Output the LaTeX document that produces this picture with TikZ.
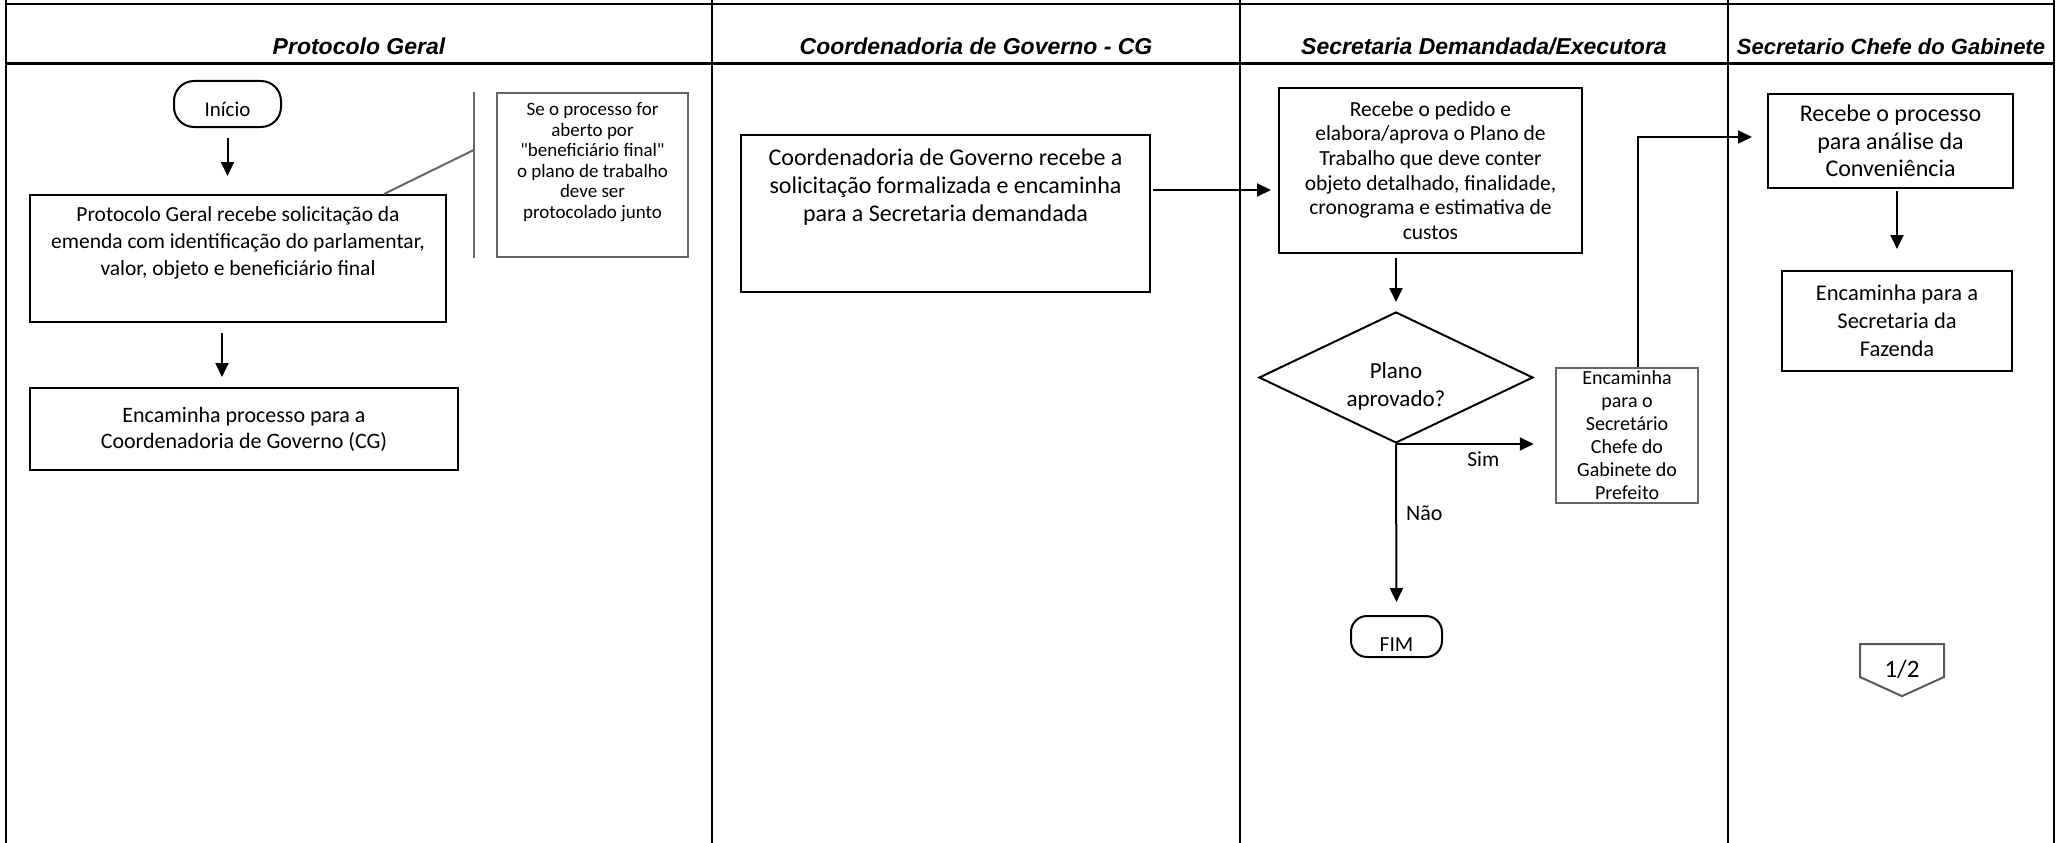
\documentclass[tikz,border=0pt]{standalone}
\usepackage{fontspec}
\setmainfont{Carlito}[Ligatures=TeXOff]
\newfontfamily\headfont{Liberation Sans}
\usetikzlibrary{arrows.meta,shapes.geometric,shapes.symbols}

\begin{document}
\begin{tikzpicture}[x=1pt, y=-1pt,
  caixa/.style={draw, line width=2pt, inner sep=0pt},
  nota/.style={draw=black!60, line width=2.5pt, inner sep=0pt},
  seta/.style={line width=2pt, -{Triangle[width=13pt,length=14pt]}},
  titulo/.style={font=\headfont\bfseries\itshape\fontsize{23}{28}\selectfont, anchor=base},
  texto/.style={align=center, inner sep=0pt}]

  \useasboundingbox (0,0) rectangle (2062,843);

  \draw[line width=2pt] (6,4) -- (2054,4);
  \draw[line width=3pt] (6,64) -- (2054,64);
  \foreach \x in {6,712,1240,1728,2054}
    \draw[line width=2pt] (\x,0) -- (\x,843);

  \node[titulo] (tProtocolo) at (359,55) {Protocolo Geral};
  \node[titulo] (tGoverno) at (976,55) {Coordenadoria de Governo - CG};
  \node[titulo] (tSecretaria) at (1484,55) {Secretaria Demandada/Executora};
  \node[titulo, font=\headfont\bfseries\itshape\fontsize{22}{28}\selectfont] (tGabinete) at (1891,55) {Secretario Chefe do Gabinete};

  \node[caixa, rounded corners=20pt, minimum width=107pt, minimum height=46pt, text height=26pt, text depth=0pt, font=\fontsize{21}{24}\selectfont] (inicio) at (227.5,104) {Início};

  \node[caixa, minimum width=416pt, minimum height=127pt] (protocolo) at (238,258.5) {};
  \node[texto, anchor=north, font=\fontsize{21.5}{27}\selectfont] (protocoloTxt) at ([yshift=-12pt]protocolo.north) {Protocolo Geral recebe solicitação da\\emenda com identificação do parlamentar,\\valor, objeto e beneficiário final};

  \node[caixa, texto, minimum width=428pt, minimum height=82pt, font=\fontsize{22}{26}\selectfont] (encaminhaPG) at (244,429) {Encaminha processo para a\\Coordenadoria de Governo (CG)};

  \node[nota, minimum width=191pt, minimum height=164pt] (obs) at (592.5,175) {};
  \node[texto, anchor=north, font=\fontsize{19}{20.5}\selectfont] (obsTxt) at ([yshift=-11pt]obs.north) {Se o processo for\\aberto por\\"beneficiário final"\\o plano de trabalho\\deve ser\\protocolado junto};
  \draw[line width=2.5pt, black!60] ([xshift=-22pt]obs.north west) -- ([xshift=-22pt]obs.south west);
  \draw[line width=2pt, black!60] ([xshift=-63pt]protocolo.north east) -- ([xshift=-22pt,yshift=25pt]obs.west);

  \node[caixa, minimum width=409pt, minimum height=157pt] (governo) at (945.5,213.5) {};
  \node[texto, anchor=north, font=\fontsize{24}{28}\selectfont] (governoTxt) at ([yshift=-15pt]governo.north) {Coordenadoria de Governo recebe a\\solicitação formalizada e encaminha\\para a Secretaria demandada};

  \node[caixa, texto, minimum width=303pt, minimum height=165pt, font=\fontsize{21.5}{24.7}\selectfont] (pedido) at (1430.5,170.5) {Recebe o pedido e\\elabora/aprova o Plano de\\Trabalho que deve conter\\objeto detalhado, finalidade,\\cronograma e estimativa de\\custos};

  \node[draw, diamond, line width=2pt, shape aspect=2.1, inner sep=0pt, minimum width=274pt, minimum height=131pt] (decisao) at (1396,377.5) {};
  \node[texto, font=\fontsize{23}{28}\selectfont] (decisaoTxt) at ([yshift=-9pt]decisao.center) {Plano\\aprovado?};

  \node[nota, texto, minimum width=142pt, minimum height=135pt, font=\fontsize{20}{23}\selectfont] (encaminha) at (1627,435.5) {Encaminha\\para o\\Secretário\\Chefe do\\Gabinete do\\Prefeito};

  \node[caixa, rounded corners=16pt, minimum width=91pt, minimum height=41pt, text height=29pt, text depth=0pt, font=\fontsize{21.5}{24}\selectfont] (fim) at (1396.5,636.5) {FIM};

  \node[caixa, texto, minimum width=245pt, minimum height=94pt, font=\fontsize{24}{27.5}\selectfont] (recebeA) at (1890.5,141) {Recebe o processo\\para análise da\\Conveniência};
  \node[caixa, texto, minimum width=230pt, minimum height=100pt, font=\fontsize{22.5}{28}\selectfont] (fazenda) at (1897,321) {Encaminha para a\\Secretaria da\\Fazenda};

  \node[draw=black!65, line width=2pt, signal, signal to=south, signal pointer angle=131, minimum width=84pt, minimum height=37pt, inner sep=0pt, text height=33pt, text depth=0pt, font=\fontsize{25}{28}\selectfont] (pagina) at (1902,660.5) {1/2};

  \coordinate (p1) at ([xshift=-16pt]protocolo.south);
  \coordinate (g1) at ([yshift=23.5pt]governo.east);
  \coordinate (e1) at ([xshift=11pt]encaminha.north);
  \coordinate (r1) at ([yshift=4pt]recebeA.west);

  \draw[seta, shorten <=10pt, shorten >=18pt] (inicio.south) -- (inicio.south |- protocolo.north);
  \draw[seta, shorten <=10pt, shorten >=10pt] (p1) -- (p1 |- encaminhaPG.north);
  \draw[seta, shorten <=2pt, shorten >=7pt] (g1) -- (g1 -| pedido.west);
  \draw[seta, shorten <=4pt, shorten >=9pt] (decisao.north |- pedido.south) -- (decisao.north);
  \draw[seta, shorten >=21pt] (decisao.south) -- (decisao.south -| encaminha.west)
    node[pos=.55, anchor=base, inner sep=0pt, yshift=-22pt, font=\fontsize{21.5}{24}\selectfont] {Sim};
  \draw[seta, shorten >=13pt] (decisao.south) -- (fim.north)
    node[pos=.445, anchor=base west, inner sep=0pt, xshift=9pt, font=\fontsize{22}{24}\selectfont] {Não};
  \draw[seta, shorten >=15pt] (e1) |- (r1);
  \draw[seta, shorten <=2pt, shorten >=21pt] (fazenda.north |- recebeA.south) -- (fazenda.north);

\end{tikzpicture}
\end{document}
